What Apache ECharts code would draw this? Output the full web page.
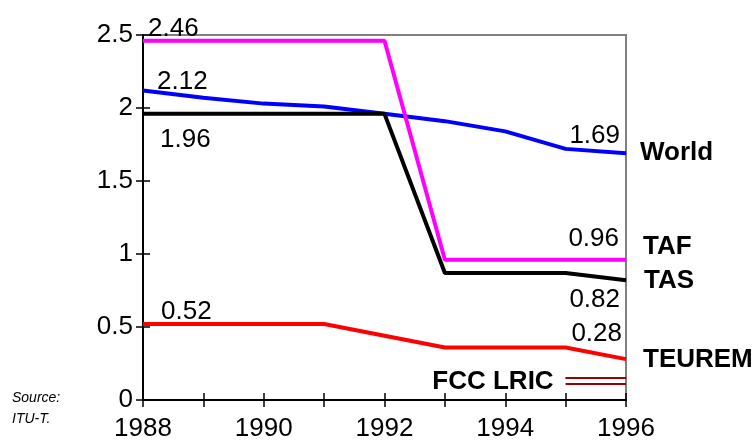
<!DOCTYPE html>
<html><head><meta charset="utf-8">
<script src="https://cdn.jsdelivr.net/npm/echarts@6/dist/echarts.min.js"></script>
<style>html,body{margin:0;padding:0;background:#fff}#c{width:756px;height:444px}</style>
</head><body><div id="c"></div>
<script>
const years = [1988, 1989, 1990, 1991, 1992, 1993, 1994, 1995, 1996];
const world = [2.12, 2.07, 2.03, 2.01, 1.96, 1.91, 1.84, 1.72, 1.69];
const taf = [2.46, 2.46, 2.46, 2.46, 2.46, 0.96, 0.96, 0.96, 0.96];
const tas = [1.96, 1.96, 1.96, 1.96, 1.96, 0.87, 0.87, 0.87, 0.82];
const teurem = [0.52, 0.52, 0.52, 0.52, 0.44, 0.36, 0.36, 0.36, 0.28];
const fccYears = [1995, 1996];
const fccHigh = [0.15, 0.15];
const fccLow = [0.11, 0.11];
const seriesNames = ['World', 'TAF', 'TAS', 'TEUREM', 'FCC LRIC'];
const sourceLines = ['Source:', 'ITU-T.'];

const FONT = 'Liberation Sans, Arial, sans-serif';

function lbl(v, align, off) {
  return { show: true, position: 'inside', align: align, verticalAlign: 'middle', offset: off,
    formatter: v.toFixed(2), fontSize: 26, color: '#000', fontFamily: FONT };
}
function mk(vals, startOff, endOff) {
  return years.map((y, i) => {
    const d = { value: [y, vals[i]] };
    if (i === 0) d.label = lbl(vals[i], 'left', startOff);
    else if (i === vals.length - 1) d.label = lbl(vals[i], 'right', endOff);
    return d;
  });
}
function lineSeries(name, color, data, endOff) {
  return {
    name: name, type: 'line', data: data, symbol: 'circle', symbolSize: 1, showSymbol: true,
    color: color, itemStyle: { color: color },
    lineStyle: { color: color, width: 4 }, silent: true,
    label: { show: false },
    endLabel: { show: true, formatter: name, fontSize: 26, fontWeight: 'bold', color: '#000',
      fontFamily: FONT, offset: endOff }
  };
}

const chart = echarts.init(document.getElementById('c'), null, { renderer: 'canvas' });
const axisCommon = {
  type: 'value', splitLine: { show: false }
};
chart.setOption({
  animation: false,
  backgroundColor: '#fff',
  textStyle: { fontFamily: FONT },
  grid: { left: 143, right: 130, top: 35, bottom: 44, show: true, borderColor: '#808080', borderWidth: 2 },
  xAxis: [
    Object.assign({}, axisCommon, {
      min: 1988, max: 1996, interval: 1, position: 'bottom',
      axisLine: { show: true, lineStyle: { color: '#000', width: 2 } },
      axisTick: { show: true, length: 7, lineStyle: { color: '#000', width: 1.5 } },
      axisLabel: { fontSize: 26, color: '#000', margin: 16, fontFamily: FONT,
        formatter: v => (v % 2 === 0 ? String(v) : '') }
    }),
    Object.assign({}, axisCommon, {
      min: 1988, max: 1996, interval: 1, position: 'bottom',
      axisLine: { show: false },
      axisTick: { show: true, inside: true, length: 7, lineStyle: { color: '#000', width: 1.5 } },
      axisLabel: { show: false }
    })
  ],
  yAxis: [
    Object.assign({}, axisCommon, {
      min: 0, max: 2.5, interval: 0.5, position: 'left',
      axisLine: { show: true, lineStyle: { color: '#000', width: 2 } },
      axisTick: { show: true, length: 7, lineStyle: { color: '#000', width: 1.5 } },
      axisLabel: { fontSize: 26, color: '#000', margin: 10, fontFamily: FONT }
    }),
    Object.assign({}, axisCommon, {
      min: 0, max: 2.5, interval: 0.5, position: 'left',
      axisLine: { show: false },
      axisTick: { show: true, inside: true, length: 7, lineStyle: { color: '#000', width: 1.5 } },
      axisLabel: { show: false }
    })
  ],
  series: [
    lineSeries(seriesNames[0], '#0000FF', mk(world, [14, -9], [-6, -17]), [6, 0]),
    lineSeries(seriesNames[2], '#000000', mk(tas, [17, 26], [-6, 20]), [10, 1]),
    lineSeries(seriesNames[1], '#FF00FF', mk(taf, [5, -12], [-7, -21]), [9, -13]),
    lineSeries(seriesNames[3], '#FF0000', mk(teurem, [18, -12], [-4, -25]), [9, 1]),
    {
      name: seriesNames[4], type: 'line', symbol: 'circle', symbolSize: 1, showSymbol: true, silent: true,
      color: '#990000', itemStyle: { color: '#990000' },
      lineStyle: { color: '#990000', width: 2 },
      data: fccYears.map((y, i) => {
        const d = { value: [y, fccHigh[i]] };
        if (i === 0) d.label = { show: true, position: 'inside', align: 'right', verticalAlign: 'middle',
          offset: [-12, 4], formatter: seriesNames[4], fontSize: 26, fontWeight: 'bold', color: '#000', fontFamily: FONT };
        return d;
      })
    },
    {
      name: seriesNames[4] + ' low', type: 'line', symbol: 'none', silent: true,
      lineStyle: { color: '#990000', width: 2 },
      data: fccYears.map((y, i) => [y, fccLow[i]])
    }
  ],
  graphic: sourceLines.map((t, i) => ({
    type: 'text', left: 12, top: 391 + i * 21,
    style: { text: t, font: 'italic 14px ' + FONT, fill: '#000' }
  }))
});
</script>
</body></html>
